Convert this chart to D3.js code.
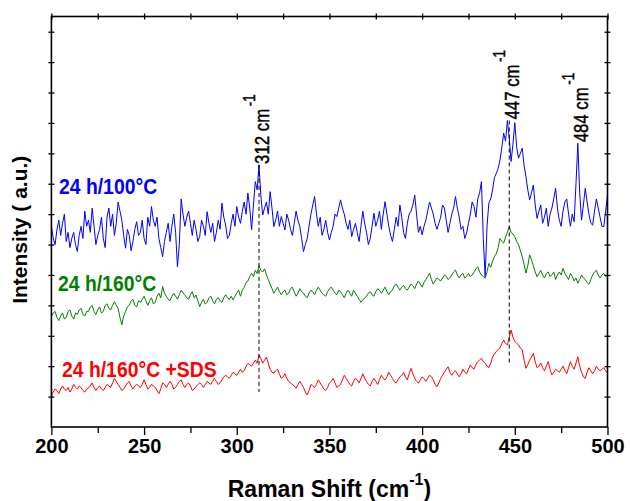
<!DOCTYPE html>
<html>
<head>
<meta charset="utf-8">
<script src="https://cdn.jsdelivr.net/npm/d3@7/dist/d3.min.js"></script>
<style>
  body { margin: 0; background: #fff; }
  svg { display: block; }
  text { font-family: "Liberation Sans", Arial, sans-serif; }
</style>
</head>
<body>
<div id="chart"></div>
<script>
// Raman shift grid: 200..500 cm-1, every 1 cm-1
const shiftStart = 200;
const shiftStep = 1;

// Intensities (a.u.), one value per grid point
const blue100 = [
  66, 62, 60, 65, 68, 63, 67, 70, 61, 64,
  59, 62, 64, 60, 57.7, 63, 66, 62, 71, 66,
  68, 64, 72, 66, 60, 63, 65, 69, 62, 59,
  69, 72, 66, 70, 63, 67, 74, 71, 68, 63,
  58.8, 65, 63, 58, 61, 65, 67.5, 63, 64, 68,
  62, 60, 69, 66, 72.5, 68, 66, 69, 62, 59,
  56, 61, 64, 67, 61, 66, 70, 64, 52.7, 60,
  75, 70, 66, 69, 71, 67, 63, 68, 65, 61,
  62.6, 68, 66, 63, 70.8, 67, 64, 67, 61, 64,
  68, 65, 73.6, 69, 66.4, 62, 63, 67, 70, 66,
  72.5, 69, 67, 71, 74, 70, 76.9, 72, 64.9, 73,
  80.7, 78, 86.2, 76, 69.7, 72, 74, 70, 77.4, 72,
  65.9, 68, 71, 66, 69.2, 67, 64.8, 70, 68, 65,
  63, 67, 71, 68, 66, 62, 57.7, 60, 62, 66,
  70, 73, 75.8, 70, 66, 69, 63, 65, 68, 64,
  61.5, 64, 66, 70, 69.2, 72, 74.7, 72, 70, 67,
  65, 68, 62.6, 65, 67, 64, 61, 66, 71, 67,
  64, 60, 62, 66, 70.3, 66, 68, 71, 65, 70,
  74.1, 70, 66, 63, 61, 65, 69, 66, 73, 69,
  64, 62, 67, 70, 71, 73, 76.3, 70, 64, 66,
  63.2, 66, 68, 71, 74, 72, 70, 67, 65, 67,
  69, 73, 72, 68, 64, 67, 70, 72, 75.8, 72,
  69, 65, 66, 62, 63.8, 67, 70, 74, 72.5, 69,
  75, 77, 80.7, 62, 49.4, 66, 73.7, 75, 78, 82,
  83.4, 85, 87.8, 92, 96.6, 94, 100.8, 95, 87.3, 93,
  100.1, 92, 88.4, 90, 91.7, 86, 82.3, 78, 74.7, 77,
  79.6, 73, 68.6, 71, 73, 67, 69, 72, 66, 70,
  72, 75, 78.5, 72, 68, 66, 71, 74, 75, 70,
  66, 70, 67.5, 80, 93.3, 77, 68, 73, 78.5, 74,
  70, 67, 66.4, 71, 75, 72, 69, 66, 65.9, 71,
  76.3
];
const green160 = [
  36.3, 37.5, 38, 36, 35, 36.5, 37.5, 35.5, 36, 38,
  38.5, 36.5, 35.5, 37.5, 37, 38.5, 39, 37, 36.5, 38,
  38, 39.5, 40, 38, 37, 38.5, 39.5, 37.5, 38, 40,
  40.5, 39, 38.5, 40, 41.2, 40, 39, 36, 33.6, 36.5,
  38, 39.5, 40, 41.5, 42, 40, 39.5, 41.5, 41, 42,
  43, 41.5, 40, 41.5, 42.5, 40.5, 41, 43, 44, 42.5,
  46.2, 44, 43, 42, 41.5, 43, 44, 43, 42, 43.5,
  45, 44, 43.5, 42.5, 42, 43.5, 44.5, 42.5, 43.4, 41.5,
  39.6, 41, 42, 40.5, 41, 42.5, 43, 41.5, 40.5, 42,
  42.5, 41.5, 41, 42.5, 43.5, 42.5, 42, 43, 41.8, 43,
  44, 45, 43, 45, 46, 47.5, 48, 49.5, 50.6, 49.5,
  51.5, 50.5, 53, 51.5, 51, 52, 50, 48.5, 47, 45.5,
  44, 45, 46, 44.5, 43.5, 44.5, 45, 43.5, 44, 45.5,
  46, 44.5, 43, 44, 45.5, 44.5, 44, 43, 42.5, 44,
  45, 44.5, 43.5, 45, 46, 45, 44, 43.5, 43, 44.5,
  45.5, 46, 45, 44, 43.5, 45, 44.5, 43.5, 42.5, 44,
  45, 44, 43, 45, 44, 43, 42, 41, 41.8, 42.5,
  43, 44, 44.5, 43.5, 43, 44.5, 45.5, 45, 44, 45,
  46, 44.5, 43.5, 44.5, 45, 46.5, 47, 46, 45, 46,
  46.5, 45.5, 45, 46, 47, 46.5, 45.5, 47, 48, 47,
  46, 47.5, 48.5, 49.5, 50.6, 48.5, 47, 48, 49, 48.5,
  48, 49, 50, 49.5, 48.5, 49, 50, 51, 51.6, 50,
  49, 50, 50.5, 49, 49.5, 50.5, 49.4, 50, 51, 52,
  52.7, 51, 50, 49.5, 48.9, 51, 53.8, 52.5, 54.5, 56,
  57, 59, 62, 61, 60.5, 62.5, 64, 65.9, 64, 63.5,
  62.6, 61, 60, 58, 56, 53.5, 50.6, 53, 56.6, 55,
  53, 51, 49.4, 50.5, 51.5, 50, 49, 50.5, 51, 49.5,
  50, 51, 48.5, 50, 51, 50, 52.2, 50.5, 49.5, 48.5,
  50.5, 49.5, 48, 49, 47.3, 48.5, 50, 49, 48.5, 47.5,
  46.9, 48.5, 50, 51, 51.5, 50, 49, 50, 50.5, 49.5,
  50
];
const red160sds = [
  10, 11.5, 12.5, 12, 11, 12.5, 13.5, 12.5, 12, 13,
  11.5, 12.5, 14, 13, 12.5, 13.5, 13, 12, 11.5, 12.5,
  12.8, 13.5, 14.5, 13, 12, 13, 13.5, 12.5, 12, 13,
  14, 13.5, 13, 14.5, 16, 15, 14, 13, 12, 12.5,
  13.5, 14.5, 15, 13.5, 12.5, 13.5, 14, 13.5, 13, 14,
  15.5, 14, 12.5, 13, 14, 13.5, 13, 12, 11, 12.5,
  14.5, 14, 13, 14, 15, 14, 12.5, 13, 14, 15,
  15.5, 14, 13, 14, 14.5, 13.5, 12, 12.5, 13.3, 14,
  14.5, 14, 13, 14, 15, 14.5, 14, 15, 16, 15,
  14, 14.5, 15.5, 16.5, 17, 16.5, 16, 17, 18, 17.5,
  17, 18, 19, 18, 18.5, 20, 20.9, 20.5, 20, 21,
  22, 21, 23.7, 22.5, 21, 22, 23, 21, 19, 18,
  17.7, 18.5, 19, 17.5, 16, 16.5, 17.5, 16, 15, 14.5,
  14, 13.5, 12.7, 14, 15, 14, 13, 11.5, 10.5, 12,
  14, 13.5, 13, 14, 15.5, 14.5, 13.5, 12.5, 12, 13,
  14.5, 15, 16, 14.5, 13, 13.5, 14, 15.5, 17, 16,
  15, 14, 13.5, 15, 16, 15.5, 14.5, 16, 17.5, 16,
  15, 14, 13.5, 15, 16, 15, 14, 15.5, 17, 16,
  15.5, 16.5, 18, 17, 16, 15, 14.5, 15.5, 16.5, 17,
  18, 16.5, 15.5, 17.5, 19.3, 17.5, 16, 15, 14.4, 15.5,
  16.5, 16, 15, 16, 17, 16.5, 15.5, 14, 13.2, 14.5,
  16, 17, 18, 19, 19.8, 18, 17, 18, 18.5, 17.5,
  16.5, 17.5, 19, 18, 17.5, 19, 20.4, 19.5, 19, 20.5,
  21.5, 22, 22.6, 21.5, 21, 20, 19.5, 21, 23, 24,
  24.8, 25.5, 26, 27.5, 28.6, 27.5, 27, 29.5, 31.9, 29.5,
  28.1, 27.5, 27, 26, 25.3, 22, 19.3, 20.5, 22, 23,
  24.2, 21.5, 19.5, 20, 21, 19.5, 18.5, 20, 21.5, 19,
  17.1, 18, 19, 18.5, 18, 19, 20, 18.5, 17.5, 19.5,
  21.5, 20, 19, 21, 23.1, 20, 18, 16.5, 16, 18,
  19.5, 18.5, 17.5, 18.5, 20, 19, 18.5, 19, 19.5, 18.5,
  17.6
];

const seriesNames = ["24 h/100°C", "24 h/160°C", "24 h/160°C +SDS"];
const seriesColors = ["#0000ff", "#008000", "#ff0000"];

// Peak markers: label on the blue trace, dashed guide down to the red trace
const peakShifts = [312, 447, 484];
const guideShifts = [312, 447];
const guideBottoms = [11.5, 20.5];

const xMajorTicks = [200, 250, 300, 350, 400, 450, 500];
const xMinorTicks = [225, 275, 325, 375, 425, 475];

// Layout
const W = 630, H = 501;
const plot = { left: 51.4, right: 607.5, top: 16.5, bottom: 427 };

const svg = d3.select("#chart").append("svg")
  .attr("width", W)
  .attr("height", H);

const x = d3.scaleLinear().domain([200, 500]).range([plot.left, plot.right]);
const y = d3.scaleLinear().domain([0, 135]).range([plot.bottom, plot.top]);

const shifts = blue100.map((d, i) => shiftStart + i * shiftStep);
const series = [blue100, green160, red160sds].map((vals, k) => ({
  name: seriesNames[k],
  color: seriesColors[k],
  points: vals.map((v, i) => ({ shift: shifts[i], value: v }))
}));

// Traces
const line = d3.line()
  .x(d => x(d.shift))
  .y(d => y(d.value));

svg.selectAll("path.trace")
  .data(series)
  .enter()
  .append("path")
  .attr("class", "trace")
  .attr("d", d => line(d.points))
  .attr("fill", "none")
  .attr("stroke", d => d.color)
  .attr("stroke-width", 1)
  .attr("stroke-linejoin", "round");

// highest blue value within +-2 cm-1 of a peak position
const bluePeak = s => d3.max(series[0].points.filter(p => Math.abs(p.shift - s) <= 2), p => p.value);

// Dashed guides
svg.selectAll("line.guide")
  .data(guideShifts)
  .enter()
  .append("line")
  .attr("class", "guide")
  .attr("x1", d => x(d)).attr("x2", d => x(d))
  .attr("y1", d => y(bluePeak(d)))
  .attr("y2", (d, i) => y(guideBottoms[i]))
  .attr("stroke", "#000")
  .attr("stroke-width", 1)
  .attr("stroke-dasharray", "4,3");

// Peak labels (rotated)
const peakText = svg.selectAll("text.peak")
  .data(peakShifts)
  .enter()
  .append("text")
  .attr("class", "peak")
  .attr("transform", d => `translate(${x(d) + 10},${y(bluePeak(d)) - 1}) rotate(-90) scale(0.84,1)`)
  .attr("font-size", 20)
  .attr("fill", "#000")
  .attr("stroke", "#000")
  .attr("stroke-width", 0.45);
peakText.append("tspan").text(d => d + " cm");
peakText.append("tspan").attr("dx", 3).attr("dy", -14).attr("font-size", 16).text("-1");

// Series labels
const labelPos = [[59, 194], [58, 291], [62, 377]];
svg.selectAll("text.series")
  .data(series)
  .enter()
  .append("text")
  .attr("class", "series")
  .attr("transform", (d, i) => `translate(${labelPos[i][0]},${labelPos[i][1]}) scale(0.88,1)`)
  .attr("font-size", 22)
  .attr("font-weight", "bold")
  .attr("fill", d => d.color)
  .text(d => d.name);

// Axes
const crossTicks = (g, dir) => {
  g.select(".domain").remove();
  g.selectAll(".tick line")
    .attr(dir + "1", -3).attr(dir + "2", 3)
    .attr("stroke-width", 1.3);
  g.selectAll(".tick text").remove();
};

svg.append("g")
  .attr("transform", `translate(0,${plot.top})`)
  .call(d3.axisBottom(x).tickValues(xMajorTicks.concat(xMinorTicks)).tickSize(6))
  .call(g => crossTicks(g, "y"));

const yTicks = d3.range(10, 135, 10);
svg.append("g")
  .attr("transform", `translate(${plot.left},0)`)
  .call(d3.axisRight(y).tickValues(yTicks).tickSize(6))
  .call(g => crossTicks(g, "x"));
svg.append("g")
  .attr("transform", `translate(${plot.right},0)`)
  .call(d3.axisRight(y).tickValues(yTicks).tickSize(6))
  .call(g => crossTicks(g, "x"));

svg.append("g")
  .attr("transform", `translate(0,${plot.bottom})`)
  .call(d3.axisBottom(x).tickValues(xMinorTicks).tickSize(6).tickFormat(""))
  .call(g => g.select(".domain").remove())
  .call(g => g.selectAll(".tick line").attr("stroke-width", 1.3));

const xAxis = svg.append("g")
  .attr("transform", `translate(0,${plot.bottom})`)
  .call(d3.axisBottom(x).tickValues(xMajorTicks).tickSize(8).tickPadding(4).tickSizeOuter(0));
xAxis.select(".domain").remove();
xAxis.selectAll(".tick line").attr("stroke-width", 1.3);
xAxis.selectAll(".tick text")
  .attr("font-family", "'Liberation Sans', Arial, sans-serif")
  .attr("font-size", 20)
  .attr("font-weight", "bold")
  .attr("fill", "#000");

// Frame
svg.append("rect")
  .attr("x", plot.left).attr("y", plot.top)
  .attr("width", plot.right - plot.left)
  .attr("height", plot.bottom - plot.top)
  .attr("fill", "none")
  .attr("stroke", "#000")
  .attr("stroke-width", 1.6);

// Axis titles
const xTitle = svg.append("text")
  .attr("x", (plot.left + plot.right) / 2)
  .attr("y", 497)
  .attr("text-anchor", "middle")
  .attr("font-size", 23)
  .attr("font-weight", "bold")
  .attr("fill", "#000");
xTitle.append("tspan").text("Raman Shift (cm");
xTitle.append("tspan").attr("dy", -12).attr("font-size", 16).text("-1");
xTitle.append("tspan").attr("dy", 12).text(")");

svg.append("text")
  .attr("transform", `translate(27,${(plot.top + plot.bottom) / 2 + 8}) rotate(-90)`)
  .attr("text-anchor", "middle")
  .attr("font-size", 21)
  .attr("font-weight", "bold")
  .attr("fill", "#000")
  .text("Intensity ( a.u.)");
</script>
</body>
</html>
